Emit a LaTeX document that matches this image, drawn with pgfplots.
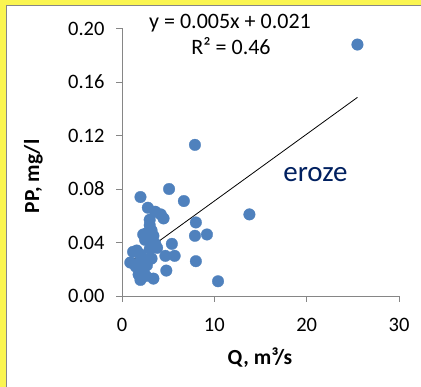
\documentclass[border=0pt]{standalone}
\usepackage{pgfplots}
\pgfplotsset{compat=1.18}
\usepackage{fontspec}
\setmainfont{Carlito}
\definecolor{bgyellow}{RGB}{250,245,80}
\definecolor{mblue}{RGB}{79,129,189}
\definecolor{axgray}{RGB}{134,134,134}
\definecolor{navy}{RGB}{0,32,96}
\begin{document}
\begin{tikzpicture}
\fill[bgyellow] (0pt,0pt) rectangle (421pt,387pt);
\fill[white] (6.5pt,0pt) rectangle (421pt,381.5pt);
\draw[axgray,line width=0.8pt] (6.5pt,0pt) -- (6.5pt,381.5pt) -- (421pt,381.5pt);
\begin{axis}[
  at={(122pt,91pt)}, anchor=south west,
  scale only axis, width=277pt, height=267.5pt,
  xmin=0, xmax=30, ymin=0, ymax=0.2,
  xtick={0,10,20,30}, ytick={0,0.04,0.08,0.12,0.16,0.2},
  axis x line*=bottom, axis y line*=left,
  tick align=outside, major tick length=6pt,
  tick style={axgray, line width=0.8pt},
  axis line style={axgray, line width=0.8pt},
  /pgf/number format/assume math mode=true,
  tick label style={font=\fontsize{20.5}{24}\selectfont, black},
  xticklabel style={yshift=-13pt},
  yticklabel style={xshift=-8pt, /pgf/number format/fixed, /pgf/number format/fixed zerofill, /pgf/number format/precision=2},
  scaled y ticks=false,
  clip=false,
]
\addplot[only marks, mark=*, mark size=5.8pt, mark options={fill=mblue, draw=mblue, line width=0.3pt}] coordinates {
(25.5,0.188) (7.9,0.113) (5.1,0.080) (2.0,0.074) (6.7,0.071) (2.8,0.066)
(3.6,0.063) (4.2,0.061) (13.8,0.061) (4.5,0.058) (3.0,0.057) (3.0,0.053)
(8.0,0.055) (3.2,0.049) (2.7,0.047) (2.3,0.046) (7.9,0.045) (9.2,0.046)
(3.4,0.045) (2.5,0.042) (3.6,0.039) (5.4,0.039) (3.8,0.036) (1.2,0.033)
(1.6,0.034) (2.0,0.031) (4.7,0.030) (5.7,0.030) (0.9,0.025) (1.9,0.025)
(3.2,0.028) (2.7,0.027) (8.0,0.026) (2.7,0.023) (2.0,0.021) (4.8,0.019)
(2.3,0.019) (1.8,0.016) (2.6,0.015) (3.4,0.013) (2.0,0.012) (10.4,0.011)
(1.5,0.022) (3.0,0.035)
};
\addplot[black, line width=0.8pt] coordinates {(1,0.026) (25.5,0.1485)};
\end{axis}
\node[anchor=base, font=\bfseries\fontsize{21.5}{25}\selectfont] at (260pt,22pt) {Q, m³/s};
\node[rotate=90, anchor=base, font=\bfseries\fontsize{21.5}{25}\selectfont] at (39pt,210.5pt) {PP, mg/l};
\node[anchor=base, font=\fontsize{22}{26}\selectfont] at (230pt,358pt) {y = 0.005x + 0.021};
\node[anchor=base, font=\fontsize{22}{26}\selectfont] at (231pt,332pt) {R² = 0.46};
\node[anchor=base, text=navy, font=\fontsize{29}{34}\selectfont] at (315.5pt,205pt) {eroze};
\pgfresetboundingbox
\path (0pt,0pt) rectangle (421pt,387pt);
\end{tikzpicture}
\end{document}
